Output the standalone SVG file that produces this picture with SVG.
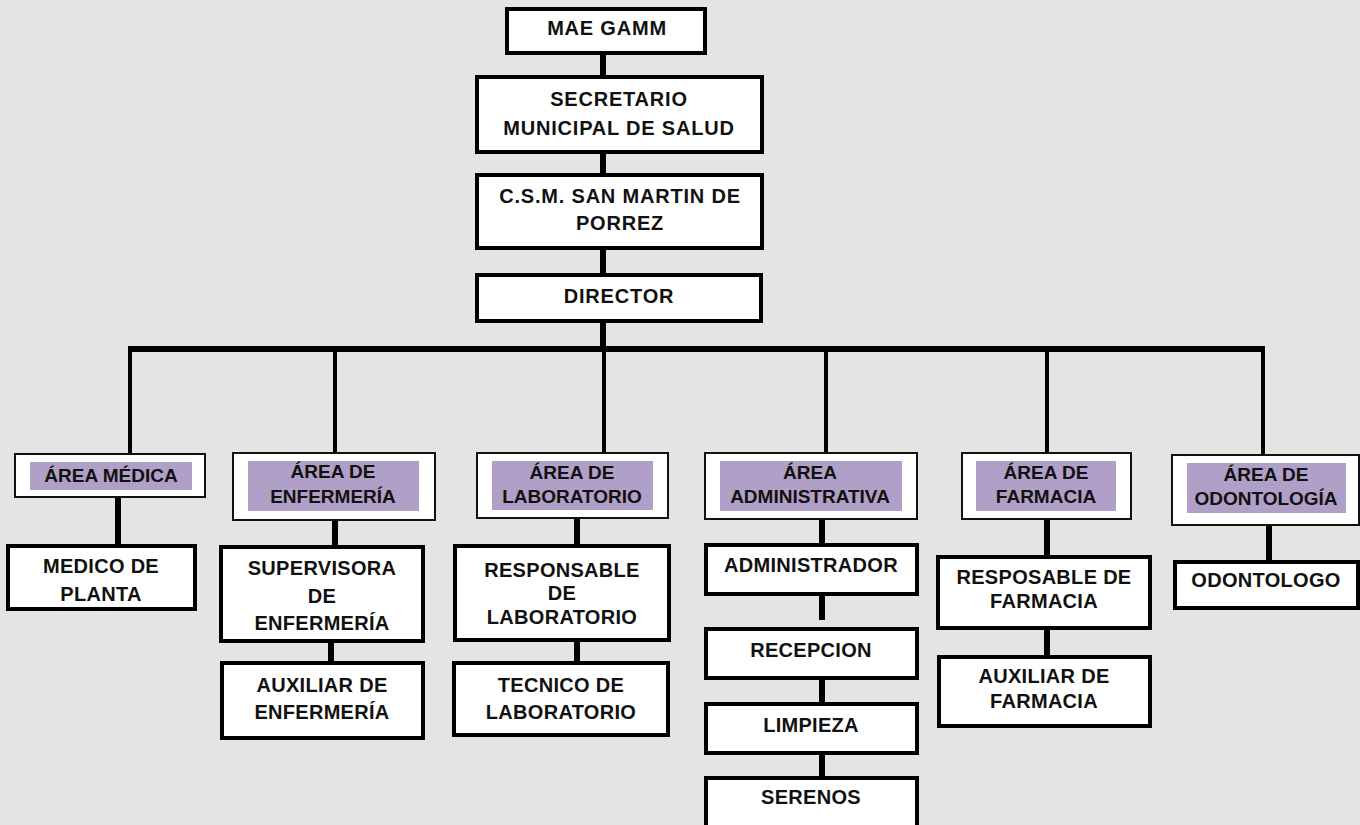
<svg xmlns="http://www.w3.org/2000/svg" width="1360" height="825" viewBox="0 0 1360 825">
<style>
.bg{fill:#e4e4e4}
.top{fill:#fff;stroke:#000;stroke-width:4}
.area{fill:#fff;stroke:#111;stroke-width:2}
.band{fill:#b09fc6}
.sub{fill:#fff;stroke:#000;stroke-width:4}
.c{stroke:#000;stroke-width:6;fill:none}
.d{stroke:#000;stroke-width:4;fill:none}
text{font-family:"Liberation Sans",Arial,sans-serif;font-weight:bold;fill:#111;text-anchor:middle}
.t{font-size:20px;letter-spacing:0.3px}
.h{font-size:20px;letter-spacing:0.8px}
.a{font-size:19px}
</style>
<rect class="bg" x="0" y="0" width="1360" height="825"/>
<g id="connectors">
<path class="c" d="M603 53V77M603 152V175M603 248V275M603 321V350"/>
<path class="c" d="M128 349H1265"/>
<path class="d" d="M130 349V455M335 349V453M604 349V453M826 349V453M1047 349V453M1263 349V455"/>
<path class="c" d="M118 497V546M335 520V547M331 641V663"/>
<path class="c" d="M577 518V546M577 640V663"/>
<path class="c" d="M822 519V545M822 594V620M822 678V704M822 753V778"/>
<path class="c" d="M1047 519V557M1047 628V657M1269 522V562"/>
</g>
<g id="mae"><rect class="top" x="507" y="9" width="198" height="44"/><text class="h" x="607" y="35">MAE GAMM</text></g>
<g id="secretario"><rect class="top" x="477" y="77" width="285" height="75"/><text class="h" x="619" y="106">SECRETARIO</text><text class="h" x="619" y="135">MUNICIPAL DE SALUD</text></g>
<g id="csm"><rect class="top" x="477" y="175" width="285" height="73"/><text class="h" x="620" y="203">C.S.M. SAN MARTIN DE</text><text class="h" x="620" y="230">PORREZ</text></g>
<g id="director"><rect class="top" x="477" y="275" width="284" height="46"/><text class="h" x="619" y="303">DIRECTOR</text></g>

<g id="area-medica"><rect class="area" x="15" y="454" width="190" height="43"/><rect class="band" x="30" y="462" width="162" height="28"/><text class="a" x="111" y="482">ÁREA MÉDICA</text></g>
<g id="area-enfermeria"><rect class="area" x="233" y="453" width="202" height="67"/><rect class="band" x="248" y="461" width="171" height="50"/><text class="a" x="333" y="478">ÁREA DE</text><text class="a" x="333" y="503">ENFERMERÍA</text></g>
<g id="area-laboratorio"><rect class="area" x="477" y="453" width="191" height="65"/><rect class="band" x="492" y="461" width="161" height="49"/><text class="a" x="572" y="479">ÁREA DE</text><text class="a" x="572" y="503">LABORATORIO</text></g>
<g id="area-administrativa"><rect class="area" x="705" y="453" width="212" height="66"/><rect class="band" x="720" y="461" width="182" height="50"/><text class="a" x="810" y="479">ÁREA</text><text class="a" x="810" y="503">ADMINISTRATIVA</text></g>
<g id="area-farmacia"><rect class="area" x="962" y="453" width="169" height="66"/><rect class="band" x="976" y="461" width="140" height="50"/><text class="a" x="1046" y="479">ÁREA DE</text><text class="a" x="1046" y="503">FARMACIA</text></g>
<g id="area-odontologia"><rect class="area" x="1172" y="455" width="187" height="70"/><rect class="band" x="1187" y="463" width="159" height="50"/><text class="a" x="1266" y="481">ÁREA DE</text><text class="a" x="1266" y="505">ODONTOLOGÍA</text></g>

<g id="medico"><rect class="sub" x="8" y="546" width="187" height="63"/><text class="t" x="101" y="573">MEDICO DE</text><text class="t" x="101" y="601">PLANTA</text></g>
<g id="supervisora"><rect class="sub" x="221" y="547" width="202" height="94"/><text class="t" x="322" y="575">SUPERVISORA</text><text class="t" x="322" y="603">DE</text><text class="t" x="322" y="630">ENFERMERÍA</text></g>
<g id="aux-enfermeria"><rect class="sub" x="222" y="663" width="201" height="75"/><text class="t" x="322" y="692">AUXILIAR DE</text><text class="t" x="322" y="719">ENFERMERÍA</text></g>
<g id="resp-lab"><rect class="sub" x="455" y="546" width="214" height="94"/><text class="t" x="562" y="577">RESPONSABLE</text><text class="t" x="562" y="600">DE</text><text class="t" x="562" y="624">LABORATORIO</text></g>
<g id="tecnico-lab"><rect class="sub" x="454" y="663" width="214" height="72"/><text class="t" x="561" y="692">TECNICO DE</text><text class="t" x="561" y="719">LABORATORIO</text></g>
<g id="administrador"><rect class="sub" x="706" y="545" width="211" height="49"/><text class="t" x="811" y="572">ADMINISTRADOR</text></g>
<g id="recepcion"><rect class="sub" x="706" y="629" width="211" height="49"/><text class="t" x="811" y="657">RECEPCION</text></g>
<g id="limpieza"><rect class="sub" x="706" y="704" width="211" height="49"/><text class="t" x="811" y="732">LIMPIEZA</text></g>
<g id="serenos"><rect class="sub" x="706" y="778" width="211" height="52"/><text class="t" x="811" y="804">SERENOS</text></g>
<g id="resp-farmacia"><rect class="sub" x="938" y="557" width="212" height="71"/><text class="t" x="1044" y="584">RESPOSABLE DE</text><text class="t" x="1044" y="608">FARMACIA</text></g>
<g id="aux-farmacia"><rect class="sub" x="939" y="657" width="211" height="69"/><text class="t" x="1044" y="683">AUXILIAR DE</text><text class="t" x="1044" y="708">FARMACIA</text></g>
<g id="odontologo"><rect class="sub" x="1175" y="562" width="183" height="46"/><text class="t" x="1266" y="587">ODONTOLOGO</text></g>
</svg>
